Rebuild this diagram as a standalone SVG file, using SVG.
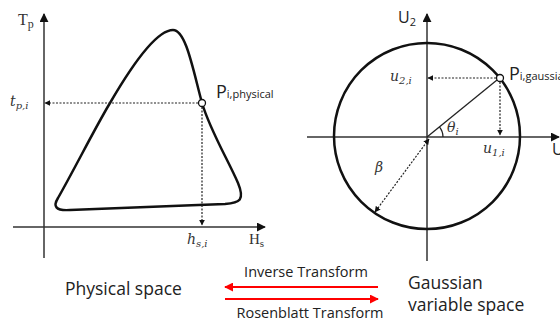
<svg xmlns="http://www.w3.org/2000/svg" width="560" height="322" viewBox="0 0 560 322">
<style>
.axis{stroke:#333;stroke-width:1.5;fill:none}
.curve{stroke:#111;stroke-width:2.5;fill:none}
.dot{stroke:#222;stroke-width:1.2;stroke-dasharray:2 1.5;fill:none}
.thin{stroke:#222;stroke-width:1.3;fill:none}
.red{stroke:#f00;stroke-width:2;fill:none}
.math{font-family:"DejaVu Serif","Liberation Serif",serif;font-style:italic;fill:#333}
.rom{font-family:"Liberation Serif","DejaVu Serif",serif;fill:#333}
.sans{font-family:"Open Sans","Noto Sans","Liberation Sans",sans-serif;fill:#222}
</style>
<defs>
<marker id="ah" viewBox="0 0 10 10" refX="9" refY="5" markerWidth="6" markerHeight="6" orient="auto-start-reverse" markerUnits="userSpaceOnUse"><path d="M0 0L10 5L0 10Z" fill="#111"/></marker>
<marker id="axh" viewBox="0 0 10 10" refX="9" refY="5" markerWidth="9" markerHeight="9" orient="auto" markerUnits="userSpaceOnUse"><path d="M0 0L10 5L0 10Z" fill="#111"/></marker>
<marker id="rh" viewBox="0 0 10 10" refX="9" refY="5" markerWidth="9" markerHeight="9" orient="auto" markerUnits="userSpaceOnUse"><path d="M0 0L10 5L0 10Z" fill="#f00"/></marker>
</defs>

<g id="physical-plot">
<line class="axis" x1="44" y1="258" x2="44" y2="14" marker-end="url(#axh)"/>
<line class="axis" x1="13" y1="227" x2="265" y2="227" marker-end="url(#axh)"/>
<path class="curve" d="M58 198 C75 168 95 128 110 103 C135 60 158 30 173 30 C186 30 193 70 202 103 C210 130 228 160 238 183 C245 200 240 203 225 204 C170 206 110 208 70 210 C55 211 53 206 58 198 Z"/>
<text class="rom" x="18" y="25" font-size="16">T<tspan font-size="12" dy="3">p</tspan></text>
<text class="math" x="10" y="106" font-size="14">t<tspan font-size="10" dy="3">p,i</tspan></text>
<text class="math" x="187" y="244" font-size="14">h<tspan font-size="10" dy="3">s,i</tspan></text>
<text class="rom" x="249" y="244" font-size="15">H<tspan font-size="11" dy="3">s</tspan></text>
</g>

<g id="p-physical">
<line class="dot" x1="198" y1="103" x2="45" y2="103" marker-end="url(#ah)"/>
<line class="dot" x1="202" y1="107" x2="202" y2="225" marker-end="url(#ah)"/>
<circle cx="202" cy="103" r="3.5" fill="#fff" stroke="#111" stroke-width="1.3"/>
<text class="sans" x="216" y="98" font-size="18">P<tspan font-size="11">i,physical</tspan></text>
</g>

<g id="gaussian-plot">
<line class="axis" x1="427" y1="261" x2="427" y2="14" marker-end="url(#axh)"/>
<line class="axis" x1="307" y1="137" x2="559" y2="137" marker-end="url(#axh)"/>
<circle class="curve" cx="427" cy="136" r="93"/>
<line class="thin" x1="427" y1="137" x2="497" y2="80"/>
<path class="thin" d="M443 137 A16 16 0 0 0 439.4 126.9"/>
<line class="dot" x1="429" y1="139" x2="375" y2="212" marker-start="url(#ah)" marker-end="url(#ah)"/>
<text class="sans" x="398" y="23" font-size="16">U<tspan font-size="11" dy="3">2</tspan></text>
<text class="sans" x="552" y="155" font-size="16">U</text>
<text class="math" x="390" y="81" font-size="14">u<tspan font-size="10" dy="3">2,i</tspan></text>
<text class="math" x="483" y="153" font-size="14">u<tspan font-size="10" dy="3">1,i</tspan></text>
<text class="math" x="447" y="132" font-size="14">θ<tspan font-size="10" dy="3">i</tspan></text>
<text class="math" x="375" y="172" font-size="14">β</text>
</g>

<g id="p-gaussian">
<line class="dot" x1="496" y1="78" x2="428" y2="78" marker-end="url(#ah)"/>
<line class="dot" x1="500" y1="82" x2="500" y2="135" marker-end="url(#ah)"/>
<circle cx="500" cy="78" r="3.5" fill="#fff" stroke="#111" stroke-width="1.3"/>
<text class="sans" x="509" y="80" font-size="18">P<tspan font-size="11">i,gaussian</tspan></text>
</g>

<g id="physical-space"><text class="sans" x="65" y="295" font-size="17.5">Physical space</text></g>
<g id="gaussian-space"><text class="sans" x="408" y="289" font-size="17.5">Gaussian</text><text class="sans" x="408" y="311" font-size="17.5">variable space</text></g>

<g id="connectors">
<line class="red" x1="378" y1="287" x2="225" y2="287" marker-end="url(#rh)"/>
<line class="red" x1="225" y1="299" x2="378" y2="299" marker-end="url(#rh)"/>
<text class="sans" x="306" y="277" font-size="14.5" text-anchor="middle">Inverse Transform</text>
<text class="sans" x="310" y="318" font-size="14.5" text-anchor="middle">Rosenblatt Transform</text>
</g>
</svg>
